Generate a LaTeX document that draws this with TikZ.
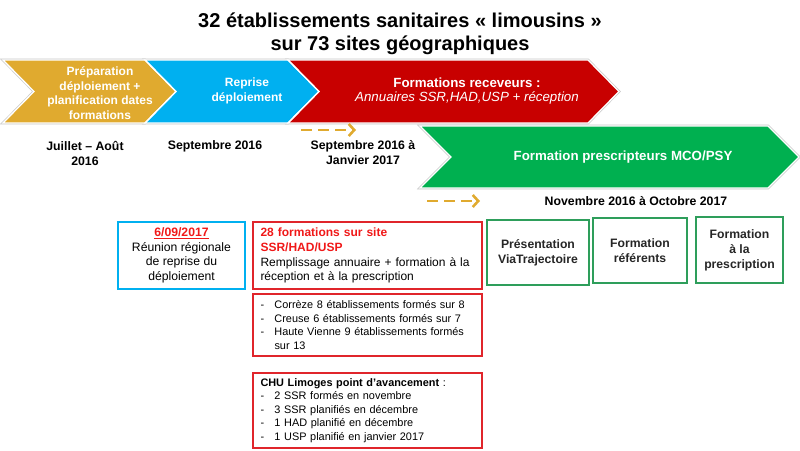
\documentclass[tikz,border=0pt]{standalone}
\usepackage{fontspec}
\setmainfont{Liberation Sans}
\usepackage{tikz}
\usetikzlibrary{arrows.meta}
\definecolor{prepgold}{HTML}{E0AA2F}
\definecolor{reprisebleu}{HTML}{00B0F0}
\definecolor{receveurrouge}{HTML}{C80000}
\definecolor{prescvert}{HTML}{00B050}
\definecolor{cadrerouge}{HTML}{E0252B}
\definecolor{cadrevert}{HTML}{2E9E5B}
\definecolor{daterouge}{HTML}{F01818}
% chevron outline: left, right, top, bottom
\newcommand\ChevronPath[4]{%
  (#1,#3) -- (#2,#3) -- ++(31,{(#4-#3)/2}) -- (#2,#4) -- (#1,#4) -- ++(31,{(#3-#4)/2}) -- cycle}
\newcommand\Puce[1]{\makebox[14pt][l]{-}#1}
\tikzset{%
  >=latex,
  chevron text/.style={text=white,align=center,inner sep=0pt,
    font=\bfseries\fontsize{12}{14.5}\selectfont},%
  date text/.style={align=center,inner sep=0pt,
    font=\bfseries\fontsize{12.3}{15}\selectfont},%
  dash arrow/.style={draw=prepgold,line width=2.6pt,dash pattern=on 11pt off 6pt,
    -{Straight Barb[length=5.5pt,width=12pt]}},%
  bluebox/.style={draw=reprisebleu,line width=1.4pt,minimum width=127pt,minimum height=67pt,
    align=center,inner sep=0pt,font=\fontsize{12.2}{14.5}\selectfont},%
  redbox/.style={draw=cadrerouge,line width=1.4pt,minimum width=229pt,text width=214pt,
    inner xsep=7.5pt,inner ysep=0pt,align=left},%
  greenbox/.style={draw=cadrevert,line width=1.4pt,align=center,inner sep=0pt,
    text=black!85,font=\bfseries\fontsize{12.2}{15}\selectfont}%
}

\begin{document}
\begin{tikzpicture}[x=1pt,y=-1pt]
\useasboundingbox (0,0) rectangle (800,450);

%% title
\node[align=center,font=\bfseries\fontsize{20}{23}\selectfont] (titre) at (400,34)
  {32 établissements sanitaires « limousins »\\sur 73 sites géographiques};

%% chevrons: grey rim, fill, white edge
\foreach \l/\r/\t/\b in {3/145/60/123,145/288/60/123,288/588/60/123,420/768/126/188}
  \draw[black!22,line width=2.6pt] \ChevronPath{\l}{\r}{\t}{\b};
\foreach \l/\r/\t/\b/\c in {3/145/60/123/prepgold,145/288/60/123/reprisebleu,
    288/588/60/123/receveurrouge,420/768/126/188/prescvert}
  \fill[\c] \ChevronPath{\l}{\r}{\t}{\b};
\foreach \l/\r/\t/\b in {3/145/60/123,145/288/60/123,288/588/60/123,420/768/126/188}
  \draw[white,line width=1.3pt] \ChevronPath{\l}{\r}{\t}{\b};

\node[chevron text] (prep) at (100,93) {Préparation\\déploiement +\\planification dates\\formations};
\node[chevron text] (reprise) at (247,91) {Reprise\\déploiement};
\node[chevron text,font=\bfseries\fontsize{13.3}{14.5}\selectfont] (receveurs) at (467,91)
  {Formations receveurs :\\{\mdseries\itshape Annuaires SSR,HAD,USP + réception}};
\node[chevron text,font=\bfseries\fontsize{13.3}{15}\selectfont] (prescripteurs) at (623,157)
  {Formation prescripteurs MCO/PSY};

%% periods
\node[date text] (juillet) at (85,153) {Juillet – Août\\2016};
\node[date text] (septembre) at (215,146) {Septembre 2016};
\node[date text] (sepjan) at (363,153) {Septembre 2016 à\\Janvier 2017};
\node[date text] (novoct) at (636,201) {Novembre 2016 à Octobre 2017};

\coordinate (recA) at (301,130);
\coordinate (recB) at (356,130);
\coordinate (presA) at (427,201);
\coordinate (presB) at (480,201);
\draw[dash arrow] (recA) -- (recB);
\draw[dash arrow] (presA) -- (presB);

%% boxes
\node[bluebox] (reunion) at (181.5,255.5)
  {{\color{daterouge}\bfseries\underline{6/09/2017}}\\Réunion régionale\\de reprise du\\déploiement};
\node[redbox,minimum height=67pt,font=\fontsize{12}{14.8}\selectfont] (sursite) at (367.5,255.5)
  {{\color{daterouge}\bfseries 28 formations sur site}\\{\color{daterouge}\bfseries SSR/HAD/USP}\\
   Remplissage annuaire + formation à la\\réception et à la prescription};
\node[redbox,minimum height=62pt,font=\fontsize{10.9}{13.4}\selectfont] (departements) at (367.5,325)
  {\Puce{Corrèze 8 établissements formés sur 8}\\\Puce{Creuse 6 établissements formés sur 7}\\
   \Puce{Haute Vienne 9 établissements formés}\\\hspace*{14pt}sur 13};
\node[redbox,minimum height=75pt,font=\fontsize{10.9}{13.4}\selectfont] (chu) at (367.5,410.5)
  {\textbf{CHU Limoges point d’avancement} :\\\Puce{2 SSR formés en novembre}\\
   \Puce{3 SSR planifiés en décembre}\\\Puce{1 HAD planifié en décembre}\\
   \Puce{1 USP planifié en janvier 2017}};

\node[greenbox,minimum width=102pt,minimum height=65pt] (presentation) at (538,252.5)
  {Présentation\\ViaTrajectoire};
\node[greenbox,minimum width=94pt,minimum height=65pt] (referents) at (640,250.5)
  {Formation\\référents};
\node[greenbox,minimum width=87pt,minimum height=66pt] (prescription) at (739.5,250)
  {Formation\\à la\\prescription};

\end{tikzpicture}
\end{document}
